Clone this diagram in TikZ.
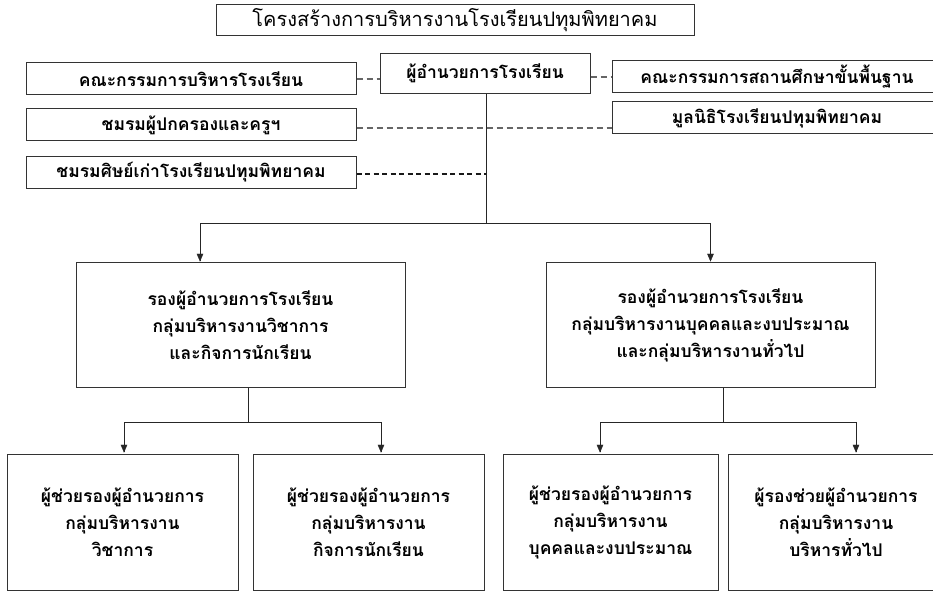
\documentclass[tikz,border=0pt]{standalone}
\usepackage{fontspec}
\newfontfamily\thaifont[Script=Thai]{Loma}
\usetikzlibrary{arrows, positioning}

\begin{document}
\begin{tikzpicture}[x=1pt, y=-1pt]
			\tikzset {>=triangle 45, line width=1.1pt, every node/.style={inner sep=0pt, align=center},
				box/.style={draw=black!80, line width=1pt, font=\thaifont\bfseries\fontsize{17.5}{27}\selectfont},
				lowbox/.style={box, execute at begin node=\rule{0pt}{36pt}},
				titlebox/.style={draw=black!80, line width=1pt, font=\thaifont\fontsize{20}{22}\selectfont},
				link/.style={dash pattern=on 6pt off 4pt, draw=black!60, line width=1.1pt},
				arr/.style={->, draw=black!85}}
			\useasboundingbox (0,0) rectangle (933,593);
			
			\node[titlebox, minimum width=478pt, minimum height=31pt] (t) at (455,20.5) {โครงสร้างการบริหารงานโรงเรียนปทุมพิทยาคม};
			\node[box, minimum width=210pt, minimum height=40pt] (d) at (485,73.5) {ผู้อำนวยการโรงเรียน};
			
			\node[box, minimum width=330pt, minimum height=32pt] (l1) at (191,79) {คณะกรรมการบริหารโรงเรียน};
			\node[box, minimum width=330pt, minimum height=32pt] (l2) at (191,125) {ชมรมผู้ปกครองและครูฯ};
			\node[box, minimum width=330pt, minimum height=32pt] (l3) at (191,172.5) {ชมรมศิษย์เก่าโรงเรียนปทุมพิทยาคม};
			\node[box, minimum width=330pt, minimum height=32pt] (r1) at (777,77) {คณะกรรมการสถานศึกษาขั้นพื้นฐาน};
			\node[box, minimum width=330pt, minimum height=32pt] (r2) at (777,118) {มูลนิธิโรงเรียนปทุมพิทยาคม};
			
			\node[lowbox, minimum width=329pt, minimum height=124pt] (m1) at (240.5,325) {รองผู้อำนวยการโรงเรียน\\กลุ่มบริหารงานวิชาการ\\และกิจการนักเรียน};
			\node[lowbox, minimum width=329pt, minimum height=124pt] (m2) at (710.5,325) {รองผู้อำนวยการโรงเรียน\\กลุ่มบริหารงานบุคคลและงบประมาณ\\และกลุ่มบริหารงานทั่วไป};
			
			\node[box, minimum width=231pt, minimum height=136pt] (b1) at (122.5,522) {ผู้ช่วยรองผู้อำนวยการ\\กลุ่มบริหารงาน\\วิชาการ};
			\node[box, minimum width=231pt, minimum height=136pt] (b2) at (368.5,522) {ผู้ช่วยรองผู้อำนวยการ\\กลุ่มบริหารงาน\\กิจการนักเรียน};
			\node[box, minimum width=215pt, minimum height=136pt] (b3) at (610.5,522) {ผู้ช่วยรองผู้อำนวยการ\\กลุ่มบริหารงาน\\บุคคลและงบประมาณ};
			\node[box, minimum width=216pt, minimum height=136pt] (b4) at (836,522) {ผู้รองช่วยผู้อำนวยการ\\กลุ่มบริหารงาน\\บริหารทั่วไป};
			
			\coordinate (j1) at (486,223);
			\coordinate (j2) at (248,422);
			\coordinate (j3) at (723,422);
			
			% solid lines
			\draw[draw=black!85] (d.south -| j1) -- (j1);
			\draw[arr] (j1) -| ([xshift=-40.5pt]m1.north);
			\draw[arr] (j1) -| (m2.north);
			\draw[draw=black!85] (m1.south -| j2) -- (j2);
			\draw[arr] (j2) -| ([xshift=1.5pt]b1.north);
			\draw[arr] (j2) -| ([xshift=12.5pt]b2.north);
			\draw[draw=black!85] (m2.south -| j3) -- (j3);
			\draw[arr] (j3) -| ([xshift=-10.5pt]b3.north);
			\draw[arr] (j3) -| ([xshift=20pt]b4.north);
			
			% dashed links
			\draw[link] (l1.east) -- (l1.east -| d.west);
			\draw[link] (d.east |- r1.west) -- (r1.west);
			\draw[link] ([yshift=-3pt]l2.east) -- ([yshift=-3pt]l2.east -| r2.west);
			\draw[link, draw=black!90, dash pattern=on 5pt off 3.5pt] ([yshift=-1.5pt]l3.east) -- ([yshift=-1.5pt]l3.east -| j1);
		\end{tikzpicture}
\end{document}
